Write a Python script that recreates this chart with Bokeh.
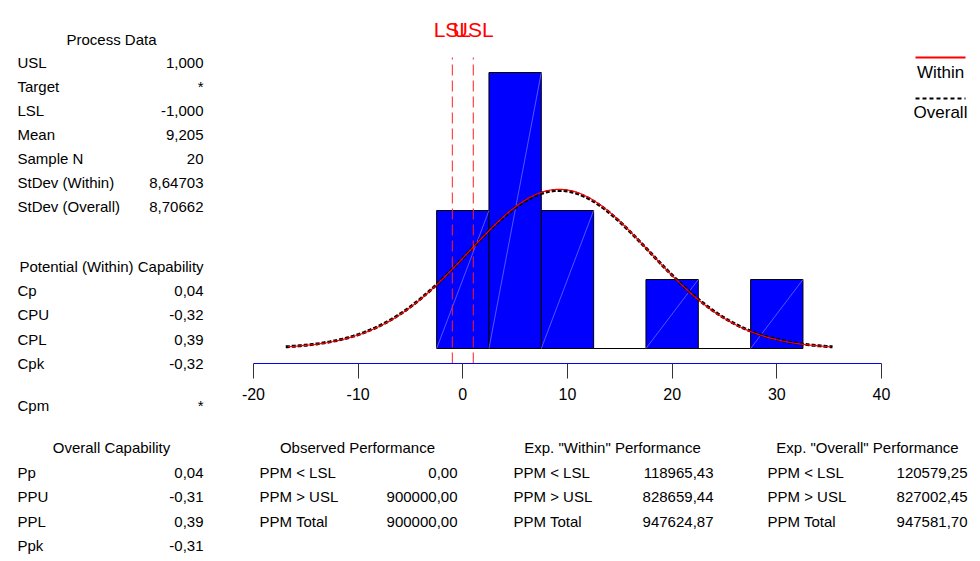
import numpy as np
from bokeh.plotting import figure
from bokeh.layouts import row, column
from bokeh.models import Range1d, LinearAxis, FixedTicker, ColumnDataSource, LabelSet, Label
from bokeh.embed import file_html
from bokeh.resources import INLINE
from bokeh.core.properties import value

# ---------------- data ----------------
bin_centers = [0, 5, 10, 15, 20, 25, 30]
bin_counts = [4, 8, 4, 0, 2, 0, 2]
bin_width = 5
spec_names = ["LSL", "USL"]
spec_values = [-1.0, 1.0]
mean = 9.205
sd_within = 8.64703
sd_overall = 8.70662
sample_n = 20
x_ticks = [-20, -10, 0, 10, 20, 30, 40]
x_tick_labels = ["-20", "-10", "0", "10", "20", "30", "40"]

process_labels = ["USL", "Target", "LSL", "Mean", "Sample N", "StDev (Within)", "StDev (Overall)"]
process_values = ["1,000", "*", "-1,000", "9,205", "20", "8,64703", "8,70662"]
potential_labels = ["Cp", "CPU", "CPL", "Cpk", "Cpm"]
potential_values = ["0,04", "-0,32", "0,39", "-0,32", "*"]
overall_labels = ["Pp", "PPU", "PPL", "Ppk"]
overall_values = ["0,04", "-0,31", "0,39", "-0,31"]
ppm_labels = ["PPM < LSL", "PPM > USL", "PPM Total"]
observed_values = ["0,00", "900000,00", "900000,00"]
exp_within_values = ["118965,43", "828659,44", "947624,87"]
exp_overall_values = ["120579,25", "827002,45", "947581,70"]

# ---------------- layout constants (page pixels) ----------------
FONT = "Liberation Sans"
LEFT_W = 240          # width of left text panel
RIGHT_W = 738         # width of histogram / table panels
TOTAL_H = 558
FRAME_BOTTOM = 363    # axis line row
HIST_H = 420          # histogram figure incl. axis panel
PX_PER_UNIT = 628 / 60.0
X0_PAGE = 462.3
PX_PER_COUNT = 34.5
BASE_PAGE = 348


def blank_fig(x0, x1, y0, y1, w, h, bottom_border=0):
    f = figure(width=w, height=h, output_backend="svg", toolbar_location=None,
               x_range=Range1d(x0, x1), y_range=Range1d(y1, y0),
               x_axis_location=None, y_axis_location=None,
               min_border_left=0, min_border_right=0, min_border_top=0,
               min_border_bottom=bottom_border,
               outline_line_color=None, background_fill_color="white",
               border_fill_color="white")
    f.xgrid.visible = False
    f.ygrid.visible = False
    return f


def add_text(f, xs, ys, texts, align, size="15px", color="black"):
    src = ColumnDataSource(dict(x=xs, y=ys, text=texts))
    f.add_layout(LabelSet(x="x", y="y", text="text", source=src, text_align=align,
                          text_baseline="alphabetic", text_font=value(FONT),
                          text_font_size=value(size), text_color=color))


# ================= left text panel =================
pl = blank_fig(0, LEFT_W, 0, TOTAL_H, LEFT_W, TOTAL_H)
proc_y = [67, 91, 115, 139, 163, 187, 211]
add_text(pl, [111], [44], ["Process Data"], "center")
add_text(pl, [17] * 7, proc_y, process_labels, "left")
add_text(pl, [203] * 7, proc_y, process_values, "right")

pot_y = [295, 319, 344, 368, 410]
add_text(pl, [111], [271], ["Potential (Within) Capability"], "center")
add_text(pl, [17] * 5, pot_y, potential_labels, "left")
add_text(pl, [203] * 5, pot_y, potential_values, "right")

ov_y = [477, 501, 526, 550]
add_text(pl, [111], [452], ["Overall Capability"], "center")
add_text(pl, [17] * 4, ov_y, overall_labels, "left")
add_text(pl, [203] * 4, ov_y, overall_values, "right")

# ================= histogram panel =================
x_left, x_right = LEFT_W, LEFT_W + RIGHT_W
p = blank_fig(x_left, x_right, 0, FRAME_BOTTOM, RIGHT_W, HIST_H,
              bottom_border=HIST_H - FRAME_BOTTOM)
p.extra_x_ranges = {"hx": Range1d((x_left - X0_PAGE) / PX_PER_UNIT,
                                  (x_right - X0_PAGE) / PX_PER_UNIT)}
p.extra_y_ranges = {"hy": Range1d(-(FRAME_BOTTOM - BASE_PAGE) / PX_PER_COUNT,
                                  BASE_PAGE / PX_PER_COUNT)}

left = [c - bin_width / 2 for c in bin_centers]
right = [c + bin_width / 2 for c in bin_centers]
hist_src = ColumnDataSource(dict(left=left, right=right, top=bin_counts))
p.quad(left="left", right="right", bottom=0, top="top", source=hist_src,
       fill_color="#0000FF", line_color="black", line_width=1,
       x_range_name="hx", y_range_name="hy")
nz = [i for i, c in enumerate(bin_counts) if c > 0]
p.segment(x0=[left[i] for i in nz], y0=[0] * len(nz),
          x1=[right[i] for i in nz], y1=[bin_counts[i] for i in nz],
          line_color="#7a7aff", line_width=0.7,
          x_range_name="hx", y_range_name="hy")


def normal_curve(sd):
    xs = np.linspace(mean - 3 * sd, mean + 3 * sd, 300)
    ys = sample_n * bin_width * np.exp(-0.5 * ((xs - mean) / sd) ** 2) / (sd * np.sqrt(2 * np.pi))
    return xs, ys


xo, yo = normal_curve(sd_overall)
p.line(xo, yo, line_color="black", line_width=3, line_dash="4 2",
       x_range_name="hx", y_range_name="hy")
xw, yw = normal_curve(sd_within)
p.line(xw, yw, line_color="#FF0000", line_width=1.2,
       x_range_name="hx", y_range_name="hy")

hy = p.extra_y_ranges["hy"]
spec_top = (BASE_PAGE - 57) / PX_PER_COUNT
p.segment(x0=spec_values, x1=spec_values, y0=[hy.start] * 2, y1=[spec_top] * 2,
          line_color="#FF2020", line_width=1, line_dash="11 5",
          x_range_name="hx", y_range_name="hy")
for name, v in zip(spec_names, spec_values):
    p.add_layout(Label(x=v, y=29, x_range_name="hx", text=name, text_align="center",
                       text_baseline="alphabetic", text_color="#FF0000",
                       text_font=FONT, text_font_size="21px"))

ax = LinearAxis(x_range_name="hx", ticker=FixedTicker(ticks=x_ticks), bounds=(-20, 40))
ax.major_label_overrides = {t: l for t, l in zip(x_ticks, x_tick_labels)}
ax.axis_line_color = "#0000FF"
ax.axis_line_width = 1
ax.major_tick_out = 15
ax.major_tick_in = 0
ax.minor_tick_out = 0
ax.minor_tick_in = 0
ax.major_tick_line_color = "#333333"
ax.major_label_text_font = FONT
ax.major_label_text_font_size = "16px"
ax.major_label_text_color = "black"
ax.major_label_standoff = 9
p.add_layout(ax, "below")

# legend
p.segment(x0=[915], x1=[965], y0=[57], y1=[57], line_color="#FF0000", line_width=2)
p.segment(x0=[915], x1=[965], y0=[98], y1=[98], line_color="black", line_width=2,
          line_dash="4 3")
add_text(p, [940, 940], [77, 117], ["Within", "Overall"], "center", size="17px")

# ================= bottom tables panel =================
pt = blank_fig(x_left, x_right, HIST_H, TOTAL_H, RIGHT_W, TOTAL_H - HIST_H)
ppm_y = [477, 501, 526]
add_text(pt, [357], [452], ["Observed Performance"], "center")
add_text(pt, [259] * 3, ppm_y, ppm_labels, "left")
add_text(pt, [457] * 3, ppm_y, observed_values, "right")

add_text(pt, [612], [452], ['Exp. "Within" Performance'], "center")
add_text(pt, [513] * 3, ppm_y, ppm_labels, "left")
add_text(pt, [713] * 3, ppm_y, exp_within_values, "right")

add_text(pt, [867], [452], ['Exp. "Overall" Performance'], "center")
add_text(pt, [767] * 3, ppm_y, ppm_labels, "left")
add_text(pt, [967] * 3, ppm_y, exp_overall_values, "right")

layout = row(pl, column(p, pt, spacing=0), spacing=0)
open("out.html", "w").write(file_html(layout, INLINE))
